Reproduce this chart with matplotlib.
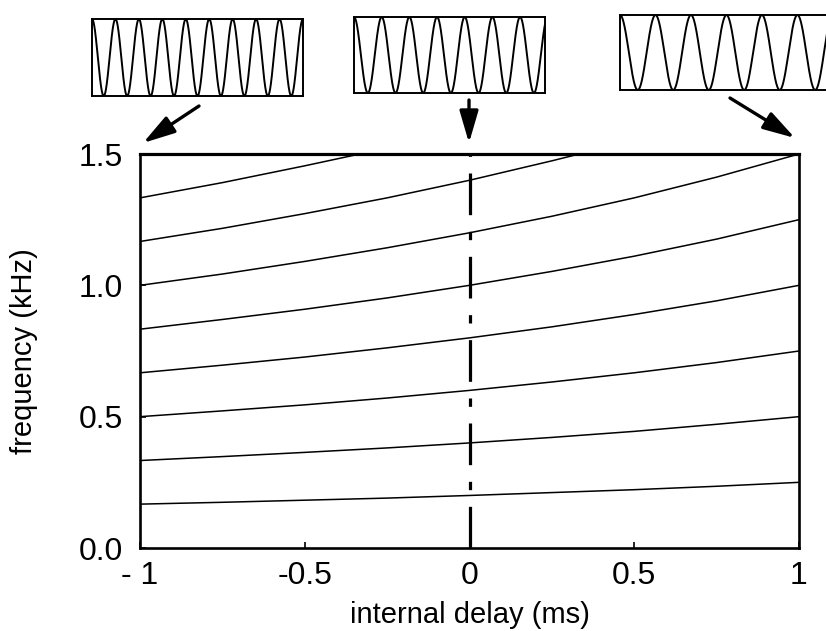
import numpy as np
import matplotlib
matplotlib.use("Agg")
import matplotlib.pyplot as plt
from matplotlib.patches import FancyArrowPatch

plt.rcParams['font.family'] = ['Liberation Sans', 'DejaVu Sans']
plt.rcParams['lines.scale_dashes'] = False

# ---------------- data ----------------
delay_grid = [-1.0, -0.75, -0.5, -0.25, 0.0, 0.25, 0.5, 0.75, 1.0]
curve1 = [0.167, 0.174, 0.182, 0.190, 0.200, 0.211, 0.222, 0.235, 0.250]
curve2 = [0.333, 0.348, 0.364, 0.381, 0.400, 0.421, 0.444, 0.471, 0.500]
curve3 = [0.500, 0.522, 0.545, 0.571, 0.600, 0.632, 0.667, 0.706, 0.750]
curve4 = [0.667, 0.696, 0.727, 0.762, 0.800, 0.842, 0.889, 0.941, 1.000]
curve5 = [0.833, 0.870, 0.909, 0.952, 1.000, 1.053, 1.111, 1.176, 1.250]
curve6 = [1.000, 1.043, 1.091, 1.143, 1.200, 1.263, 1.333, 1.412, 1.500]
curve7_delay = [-1.0, -0.75, -0.5, -0.25, 0.0, 0.25, 0.333]
curve7 = [1.167, 1.217, 1.273, 1.333, 1.400, 1.474, 1.500]
curve8_delay = [-1.0, -0.75, -0.5, -0.333]
curve8 = [1.333, 1.391, 1.455, 1.500]

xticks = [-1, -0.5, 0, 0.5, 1]
xticklabels = ["- 1", "-0.5", "0", "0.5", "1"]
yticks = [0.0, 0.5, 1.0, 1.5]
yticklabels = ["0.0", "0.5", "1.0", "1.5"]

# cycles drawn in each of the three inset waveform boxes
box_cycles = [9.0, 6.9, 6.2]

# ---------------- figure ----------------
W, H = 826, 631
fig = plt.figure(figsize=(W / 100, H / 100), dpi=100)

def fr(x0, y0, x1, y1):
    return [x0 / W, 1 - y1 / H, (x1 - x0) / W, (y1 - y0) / H]

ax = fig.add_axes(fr(140, 154, 799, 548))

curves = [
    (delay_grid, curve1), (delay_grid, curve2), (delay_grid, curve3),
    (delay_grid, curve4), (delay_grid, curve5), (delay_grid, curve6),
    (curve7_delay, curve7), (curve8_delay, curve8),
]
for d, f in curves:
    ax.plot(d, f, color='black', lw=1.1, solid_capstyle='butt')

# dashed vertical line at zero delay
ax.plot([0, 0], [0, 1.5], color='black', lw=2.3,
        linestyle=(0, (30, 12, 6, 12)))

ax.set_xlim(-1, 1)
ax.set_ylim(0, 1.5)
ax.set_xticks(xticks)
ax.set_xticklabels(xticklabels)
ax.set_yticks(yticks)
ax.set_yticklabels(yticklabels)
ax.tick_params(direction='in', length=4, width=1.2, labelsize=23)
ax.tick_params(axis='x', pad=9)
ax.tick_params(axis='y', pad=12)
for s in ax.spines.values():
    s.set_linewidth(1.9)
ax.spines['top'].set_linewidth(2.3)

ax.set_xlabel("internal delay (ms)", fontsize=21)
ax.set_ylabel("frequency (kHz)", fontsize=21)
ax.xaxis.set_label_coords(0.5, -0.135)
ax.yaxis.set_label_coords(-0.155, 0.5)

# ---------------- inset waveform boxes ----------------
box_rects = [(92, 19, 303, 96), (354, 17, 545, 93), (620, 15, 840, 90)]
for (x0, y0, x1, y1), cyc in zip(box_rects, box_cycles):
    bx = fig.add_axes(fr(x0, y0, x1, y1))
    t = np.linspace(0, 1, 3000)
    bx.plot(t, np.cos(2 * np.pi * cyc * t), color='black', lw=1.4)
    bx.set_xlim(0, 1)
    bx.set_ylim(-1, 1)
    bx.set_xticks([])
    bx.set_yticks([])
    for s in bx.spines.values():
        s.set_linewidth(1.4)

# ---------------- arrows ----------------
arrows = [((199, 106), (143, 143)), ((469, 100), (469, 143)), ((730, 98), (795, 138))]
for (xa, ya), (xb, yb) in arrows:
    arr = FancyArrowPatch((xa / W, 1 - ya / H), (xb / W, 1 - yb / H),
                          transform=fig.transFigure,
                          arrowstyle='-|>,head_length=1.3,head_width=0.38',
                          mutation_scale=15, lw=2.4, color='black',
                          shrinkA=0, shrinkB=0)
    fig.add_artist(arr)

fig.savefig("out.png", dpi=100)
